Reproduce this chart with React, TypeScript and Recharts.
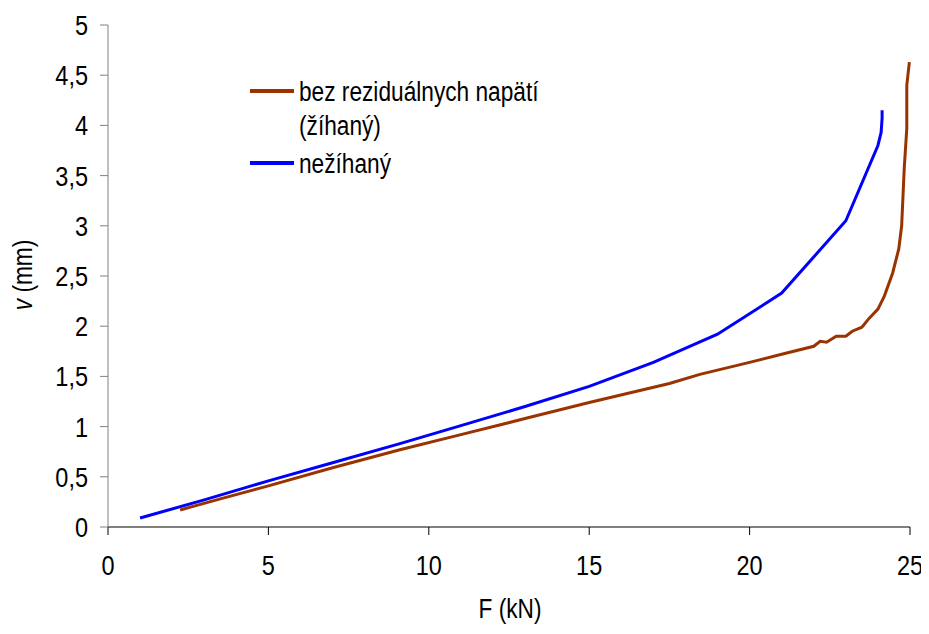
import React from "react";
import { Line, LineChart, XAxis, YAxis } from "recharts";

// F (kN) / v (mm)
const annealedF = [2.25, 3.5, 5, 7, 9.1, 11, 13, 15, 17.5, 18.45, 20, 21, 22, 22.2, 22.4, 22.7, 23, 23.2, 23.5, 23.73, 24, 24.2, 24.46, 24.65, 24.74, 24.82, 24.9, 24.9, 24.98];
const annealedV = [0.17, 0.28, 0.41, 0.59, 0.77, 0.92, 1.08, 1.24, 1.43, 1.52, 1.64, 1.72, 1.8, 1.85, 1.84, 1.9, 1.9, 1.95, 1.99, 2.08, 2.17, 2.3, 2.53, 2.77, 3.0, 3.57, 3.97, 4.4, 4.63];

const plainF = [1, 3, 5, 7, 9.1, 11, 13, 15, 17, 19, 21, 23, 24, 24.1, 24.13, 24.13];
const plainV = [0.09, 0.27, 0.46, 0.64, 0.83, 1.01, 1.2, 1.4, 1.64, 1.92, 2.33, 3.05, 3.8, 3.93, 4.07, 4.15];

const xTicks = [0, 5, 10, 15, 20, 25];
const yTicks = [0, 0.5, 1, 1.5, 2, 2.5, 3, 3.5, 4, 4.5, 5];

const BROWN = "#993300";
const BLUE = "#0000ff";
const FONT = "'Liberation Sans', Arial, sans-serif";
const SQUEEZE = 0.84; // the original font is a narrow one

const annealed = annealedF.map((F, i) => ({ F, v: annealedV[i] }));
const plain = plainF.map((F, i) => ({ F, v: plainV[i] }));

const fmt = (n: number) => String(n).replace(".", ",");

// tick text squeezed horizontally round its anchor point
function NarrowTick(props: any) {
  const { x, y, payload, textAnchor, verticalAnchor, tickFormatter } = props;
  const label = tickFormatter ? tickFormatter(payload.value) : String(payload.value);
  const dy = verticalAnchor === "start" ? "0.71em" : "0.355em";
  return (
    <g transform={`translate(${x},${y}) scale(${SQUEEZE},1)`}>
      <text x={0} y={0} dy={dy} textAnchor={textAnchor} fontFamily={FONT} fontSize={28} fill="#000">
        {label}
      </text>
    </g>
  );
}

function LegendBox() {
  const row = { display: "flex", alignItems: "flex-start" } as const;
  const swatch = (c: string) => (
    <div style={{ width: 44, height: 4, background: c, marginTop: 14, marginRight: 5, flex: "none" }} />
  );
  const txt = { transform: `scaleX(${SQUEEZE})`, transformOrigin: "left top", whiteSpace: "nowrap" } as const;
  return (
    <div
      style={{ position: "absolute", left: 242, top: 67, fontFamily: FONT, fontSize: 27, lineHeight: "34px", color: "#000" }}
    >
      <div style={row}>
        {swatch(BROWN)}
        <div style={txt}>
          bez reziduálnych napätí
          <br />
          (žíhaný)
        </div>
      </div>
      <div style={{ ...row, marginTop: 4 }}>
        {swatch(BLUE)}
        <div style={txt}>nežíhaný</div>
      </div>
    </div>
  );
}

export default function App() {
  return (
    <div style={{ width: 921, height: 626, position: "relative" }}>
      <LineChart width={921} height={626} margin={{ top: 17, right: 19, bottom: 47, left: 40 }}>
        <XAxis
          type="number"
          dataKey="F"
          domain={[0, 25]}
          ticks={xTicks}
          tick={<NarrowTick />}
          tickSize={8}
          tickMargin={20}
          height={60}
          stroke="#000"
          allowDuplicatedCategory={false}
        />
        <YAxis
          type="number"
          dataKey="v"
          domain={[0, 5]}
          ticks={yTicks}
          tickFormatter={fmt}
          tick={<NarrowTick />}
          tickSize={8}
          tickMargin={12}
          width={60}
          stroke="#808080"
        />
        <Line
          data={annealed}
          dataKey="v"
          name="bez reziduálnych napätí (žíhaný)"
          type="linear"
          stroke={BROWN}
          strokeWidth={3}
          dot={false}
          isAnimationActive={false}
        />
        <Line
          data={plain}
          dataKey="v"
          name="nežíhaný"
          type="linear"
          stroke={BLUE}
          strokeWidth={3}
          dot={false}
          isAnimationActive={false}
        />
        <g transform={`translate(14,267) rotate(-90) scale(${SQUEEZE},1)`}>
          <text x={0} y={0} textAnchor="middle" dominantBaseline="central" fontFamily={FONT} fontSize={27}>
            <tspan fontStyle="italic">v</tspan>
            <tspan> (mm)</tspan>
          </text>
        </g>
        <g transform={`translate(502,610) scale(${SQUEEZE},1)`}>
          <text x={0} y={0} textAnchor="middle" fontFamily={FONT} fontSize={27}>
            F (kN)
          </text>
        </g>
      </LineChart>
      <LegendBox />
    </div>
  );
}
